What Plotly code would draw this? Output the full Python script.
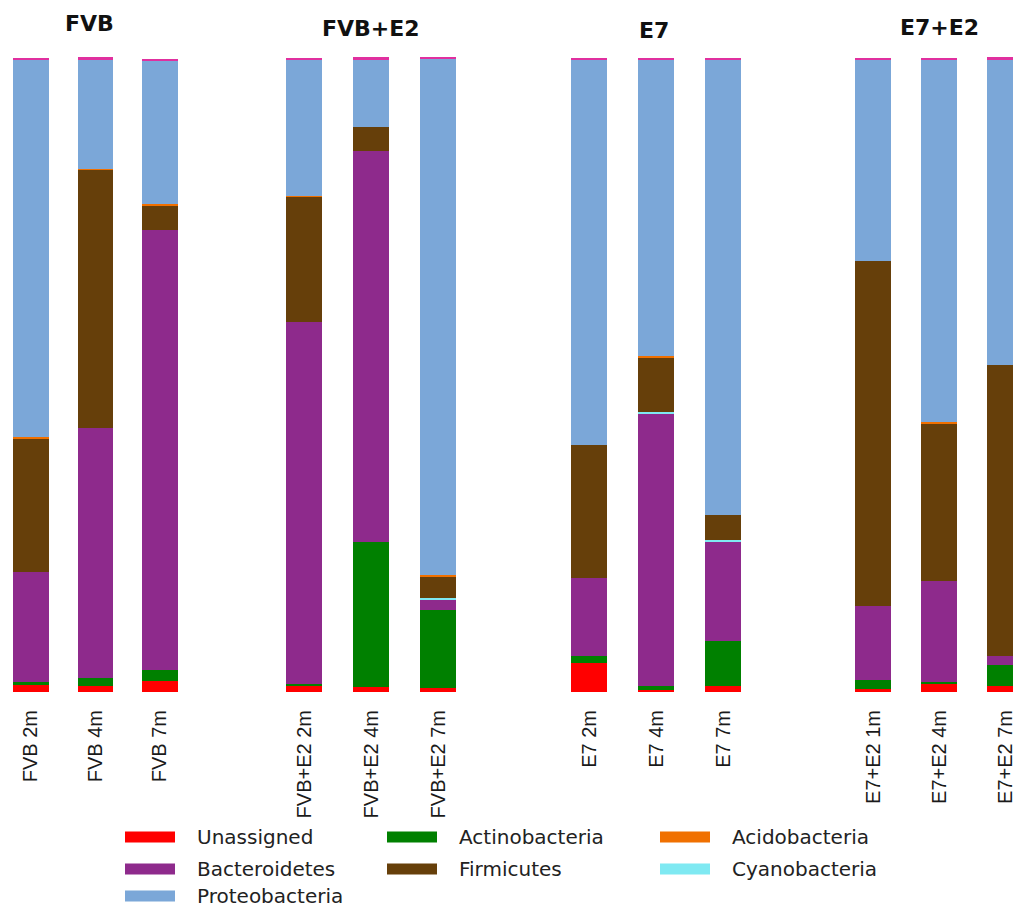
import plotly.graph_objects as go

# ---- data -------------------------------------------------------------
groups = ["FVB", "FVB+E2", "E7", "E7+E2"]
samples = [
    ["FVB 2m", "FVB 4m", "FVB 7m"],
    ["FVB+E2 2m", "FVB+E2 4m", "FVB+E2 7m"],
    ["E7 2m", "E7 4m", "E7 7m"],
    ["E7+E2 1m", "E7+E2 4m", "E7+E2 7m"],
]

# relative abundance (%) of each phylum, one value per sample (samples flattened in order)
unassigned     = [1.1, 0.9, 1.7, 1.1, 0.8, 0.6, 4.6, 0.3, 0.9, 0.5, 1.3, 1.0]
actinobacteria = [0.4, 1.3, 1.7, 0.1, 22.8, 12.4, 1.1, 0.6, 7.1, 1.4, 0.3, 3.3]
bacteroidetes  = [17.5, 39.4, 69.4, 57.2, 61.7, 1.6, 12.3, 43.0, 15.6, 11.7, 15.9, 1.3]
cyanobacteria  = [0.0, 0.0, 0.0, 0.0, 0.0, 0.3, 0.0, 0.2, 0.4, 0.0, 0.0, 0.0]
firmicutes     = [20.9, 40.8, 3.9, 19.7, 3.8, 3.3, 20.9, 8.7, 3.9, 54.3, 24.9, 46.0]
acidobacteria  = [0.3, 0.1, 0.2, 0.1, 0.0, 0.2, 0.0, 0.2, 0.0, 0.0, 0.2, 0.0]
proteobacteria = [59.5, 17.3, 22.7, 21.5, 10.7, 81.5, 60.8, 46.7, 71.8, 31.8, 57.1, 48.2]
other          = [0.3, 0.3, 0.3, 0.3, 0.3, 0.3, 0.3, 0.3, 0.3, 0.3, 0.3, 0.3]

# stacking order, bottom to top
phyla = [
    ("Unassigned", unassigned, "#ff0000"),
    ("Actinobacteria", actinobacteria, "#008000"),
    ("Bacteroidetes", bacteroidetes, "#8e2a8c"),
    ("Cyanobacteria", cyanobacteria, "#7fe9f2"),
    ("Firmicutes", firmicutes, "#663f0a"),
    ("Acidobacteria", acidobacteria, "#f07000"),
    ("Proteobacteria", proteobacteria, "#7ba7d8"),
    ("Other", other, "#e0309f"),
]
colors = {name: col for name, _, col in phyla}

# legend arranged in columns
legend_columns = [
    ["Unassigned", "Bacteroidetes", "Proteobacteria"],
    ["Actinobacteria", "Firmicutes"],
    ["Acidobacteria", "Cyanobacteria"],
]

# ---- page geometry (pixels) -------------------------------------------
W, H = 1013, 907
TOP, BOTTOM = 56, 692          # plot area vertical extent
x_domains_px = [(0, 192), (270.5, 471.5), (555.5, 756.5), (840, 1013)]
x_ranges = [[-0.48, 2.5], [-0.5, 2.5], [-0.5, 2.5], [-0.5, 2.12]]
title_shift = [(-6, 33), (0, 28), (-2, 26), (0, 29)]


def px_x(px):
    return px / W


def px_y(py):
    return (BOTTOM - py) / (BOTTOM - TOP)


fig = go.Figure()

for gi, names in enumerate(samples):
    axis_suffix = "" if gi == 0 else str(gi + 1)
    for name, values, col in phyla:
        fig.add_trace(go.Bar(
            x=names,
            y=values[3 * gi: 3 * gi + 3],
            name=name,
            marker=dict(color=col, line=dict(width=0)),
            xaxis="x" + axis_suffix,
            yaxis="y",
            showlegend=False,
            hovertemplate="%{x}<br>" + name + ": %{y:.1f}%<extra></extra>",
        ))

layout = dict(
    width=W, height=H,
    margin=dict(l=0, r=0, t=TOP, b=H - BOTTOM, pad=0),
    barmode="stack",
    bargap=0.45,
    plot_bgcolor="white",
    paper_bgcolor="white",
    showlegend=False,
    yaxis=dict(range=[0, 100.3], visible=False, fixedrange=True),
)

for gi in range(4):
    key = "xaxis" if gi == 0 else "xaxis" + str(gi + 1)
    d0, d1 = x_domains_px[gi]
    layout[key] = dict(
        domain=[px_x(d0), px_x(d1)],
        range=x_ranges[gi],
        anchor="y",
        type="category",
        showgrid=False,
        showline=False,
        zeroline=False,
        ticks="outside",
        ticklen=9,
        tickcolor="rgba(0,0,0,0)",
        tickangle=-90,
        tickfont=dict(family="Liberation Sans Narrow, Arial Narrow, Liberation Sans, Arial",
                      size=20, color="#1a1a1a"),
        automargin=False,
    )

fig.update_layout(**layout)

# group titles above the middle bar of each group
for gi, g in enumerate(groups):
    xs, ys = title_shift[gi]
    fig.add_annotation(
        text="<b>" + g + "</b>",
        x=samples[gi][1], xref="x" if gi == 0 else "x" + str(gi + 1),
        y=1, yref="paper", yanchor="middle", xanchor="center",
        xshift=xs, yshift=ys, showarrow=False,
        font=dict(family="DejaVu Sans", size=22, color="#111111"),
    )

# legend drawn below the plot
col_left_px = [125, 387, 660]
row_center_px = [837, 869, 896]
for ci, column in enumerate(legend_columns):
    for ri, name in enumerate(column):
        x0 = col_left_px[ci]
        yc = row_center_px[ri]
        fig.add_shape(
            type="rect", xref="paper", yref="paper",
            x0=px_x(x0), x1=px_x(x0 + 50),
            y0=px_y(yc + 5.5), y1=px_y(yc - 5.5),
            fillcolor=colors[name], line=dict(width=0),
        )
        fig.add_annotation(
            text=name, xref="paper", yref="paper",
            x=px_x(x0 + 70), y=px_y(yc), xanchor="left", yanchor="middle",
            showarrow=False,
            font=dict(family="DejaVu Sans", size=20, color="#222222"),
        )

fig.write_html("out.html")
